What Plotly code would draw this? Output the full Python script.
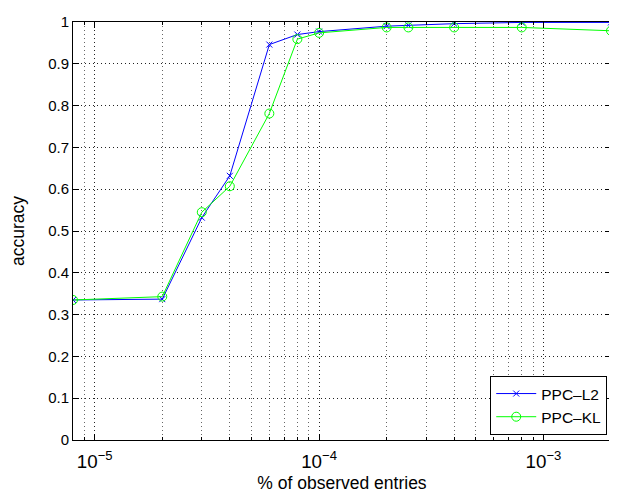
import plotly.graph_objects as go
import numpy as np

x_vals = [8e-6, 2e-5, 3e-5, 4e-5, 6e-5, 8e-5, 1e-4, 2e-4, 2.5e-4, 4e-4, 8e-4, 2e-3]
l2_acc = [0.335, 0.337, 0.532, 0.632, 0.946, 0.970, 0.977, 0.990, 0.992, 0.996, 0.999, 0.999]
kl_acc = [0.335, 0.343, 0.545, 0.607, 0.781, 0.959, 0.974, 0.987, 0.987, 0.987, 0.987, 0.979]

y_ticks = [0, 0.1, 0.2, 0.3, 0.4, 0.5, 0.6, 0.7, 0.8, 0.9, 1]
y_labels = ["0", "0.1", "0.2", "0.3", "0.4", "0.5", "0.6", "0.7", "0.8", "0.9", "1"]

fig = go.Figure()
fig.add_trace(go.Scatter(x=x_vals, y=l2_acc, name="PPC\u2013L2", mode="lines+markers",
                         line=dict(color="#0000FF", width=1),
                         marker=dict(symbol="x-thin", size=6, color="#0000FF",
                                     line=dict(color="#0000FF", width=1))))
fig.add_trace(go.Scatter(x=x_vals, y=kl_acc, name="PPC\u2013KL", mode="lines+markers",
                         line=dict(color="#00FF00", width=1),
                         marker=dict(symbol="circle-open", size=9, color="#00FF00",
                                     line=dict(color="#00FF00", width=1))))

font = "Liberation Sans, Arial, Helvetica, sans-serif"
# page body has an 8px margin; compensate so the plot area lands at 73..612 x 18..440
fig.update_layout(
    width=609, height=487,
    margin=dict(l=65, r=5, t=10, b=55),
    paper_bgcolor="white", plot_bgcolor="white",
    font=dict(family=font, size=15, color="black"),
    legend=dict(x=0.993, y=0.012, xanchor="right", yanchor="bottom",
                bordercolor="black", borderwidth=1, bgcolor="white",
                font=dict(size=15.5), tracegroupgap=0,
                itemwidth=40),
    showlegend=True,
)
grid_dash = "1px,3px"
fig.update_xaxes(
    type="log", range=[np.log10(8e-6), np.log10(2e-3)],
    dtick=1, exponentformat="power",
    showline=True, linecolor="black", linewidth=1, mirror="ticks",
    ticks="inside", ticklen=6, tickcolor="black", ticklabelstandoff=5,
    showgrid=True, gridcolor="#222", griddash=grid_dash, gridwidth=1,
    minor=dict(ticks="inside", ticklen=3, tickcolor="black",
               showgrid=True, gridcolor="#666", griddash=grid_dash, gridwidth=1),
    zeroline=False,
    title=dict(text="% of observed entries", font=dict(size=17.5), standoff=5),
)
fig.update_yaxes(
    range=[0, 1], tickvals=y_ticks, ticktext=y_labels,
    showline=True, linecolor="black", linewidth=1, mirror="ticks",
    ticks="inside", ticklen=6, tickcolor="black",
    showgrid=True, gridcolor="#222", griddash=grid_dash, gridwidth=1,
    zeroline=False,
    title=dict(text="accuracy", font=dict(size=17.5), standoff=21),
)
fig.write_html("out.html")
